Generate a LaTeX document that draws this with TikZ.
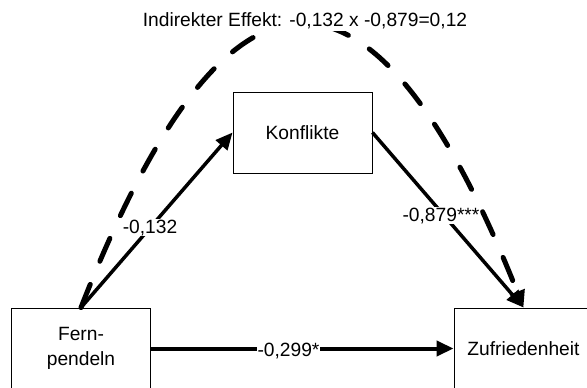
\documentclass[tikz,border=0pt]{standalone}
\usepackage{fontspec}
\setmainfont{Liberation Sans}
\usetikzlibrary{arrows.meta}
\begin{document}
\begin{tikzpicture}[x=1pt,y=-1pt,
  font=\fontsize{19.2}{25}\selectfont,
  box/.style={draw=black, line width=0.9pt, minimum width=139pt, minimum height=81pt, inner sep=0pt, align=center},
  lbl/.style={fill=white, inner sep=1pt, anchor=base},
  arr/.style={line width=3.5pt, -{Triangle[length=17pt,width=15pt]}},
  dsh/.style={line width=5pt, line cap=round, dash pattern=on 25pt off 25pt, -{Triangle[length=17pt,width=15pt]}}
]
\useasboundingbox (0,0) rectangle (587,388);
\fill[white] (0,0) rectangle (587,388);
\node[box] (F) at (81,348.5) {Fern-\\pendeln};
\node[box] (K) at (302.5,132.5) {Konflikte};
\node[box] (Z) at (523.5,348.5) {Zufriedenheit};
\draw[dsh] (F.north) .. controls (228,-69) and (374,-69) .. (Z.north);
\draw[arr] (F.north) -- (K.west);
\draw[arr] (K.east) -- (Z.north);
\draw[arr, line width=4pt] (F.east) -- (Z.west);
\node[lbl] (l1) at (150,233) {-0,132};
\node[lbl] (l2) at (288.5,356) {-0,299*};
\node[lbl] (l3) at (441,221) {-0,879***};
\node[lbl, inner sep=2pt] (t) at (305,27) {Indirekter Effekt: -0,132 x -0,879=0,12};
\end{tikzpicture}
\end{document}
